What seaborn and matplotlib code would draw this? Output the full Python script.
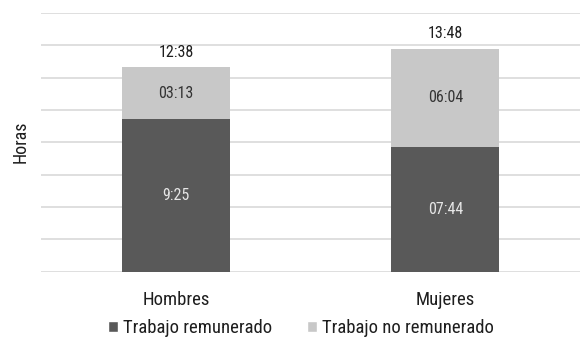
import numpy as np
import pandas as pd
import matplotlib
matplotlib.use("Agg")
import matplotlib.pyplot as plt
import seaborn as sns
from matplotlib.patches import Patch

# Datos (horas:minutos)
categorias = ["Hombres", "Mujeres"]
remunerado_txt = ["9:25", "07:44"]
no_remunerado_txt = ["03:13", "06:04"]
total_txt = ["12:38", "13:48"]
y_ticks = [0, 2, 4, 6, 8, 10, 12, 14, 16]

def a_horas(s):
    h, m = s.split(":")
    return int(h) + int(m) / 60

remunerado = [a_horas(s) for s in remunerado_txt]
no_remunerado = [a_horas(s) for s in no_remunerado_txt]
total = [r + n for r, n in zip(remunerado, no_remunerado)]

df = pd.DataFrame({"grupo": categorias, "remunerado": remunerado, "total": total})

sns.set_style("white")
plt.rcParams['font.family'] = ['Roboto Condensed', 'Liberation Sans Narrow',
                               'Liberation Sans', 'DejaVu Sans']

OSCURO = "#595959"
CLARO = "#c8c8c8"
TEXTO = "#1e1e1e"

fig = plt.figure(figsize=(5.8, 3.42), dpi=100)
ax = fig.add_axes([0.071, 0.206, 0.929, 0.756])

sns.barplot(data=df, x="grupo", y="total", color=CLARO, width=0.4,
            saturation=1, linewidth=0, ax=ax, zorder=3)
sns.barplot(data=df, x="grupo", y="remunerado", color=OSCURO, width=0.4,
            saturation=1, linewidth=0, ax=ax, zorder=3)

ax.set_ylim(0, 16)
ax.set_xlim(-0.5, 1.5)
ax.set_yticks(y_ticks)
ax.set_yticklabels([])
ax.yaxis.grid(True, color="#d9d9d9", linewidth=1.2, zorder=0)
ax.tick_params(axis="both", length=0)
ax.tick_params(axis="x", labelsize=13.5, pad=14, colors=TEXTO)
for s in ax.spines.values():
    s.set_visible(False)
ax.set_xlabel("")
ax.set_ylabel("Horas", fontsize=13, color=TEXTO, labelpad=5)

for i in range(len(categorias)):
    ax.text(i, remunerado[i] / 2, remunerado_txt[i], ha="center", va="center",
            fontsize=11.5, color="#e6e6e6", zorder=4)
    ax.text(i, remunerado[i] + no_remunerado[i] / 2, no_remunerado_txt[i],
            ha="center", va="center", fontsize=11.5, color="#333333", zorder=4)
    ax.annotate(total_txt[i], (i, total[i]), xytext=(0, 11),
                textcoords="offset points", ha="center", va="center",
                fontsize=11.5, color=TEXTO)

handles = [Patch(facecolor=OSCURO, label="Trabajo remunerado"),
           Patch(facecolor=CLARO, label="Trabajo no remunerado")]
fig.legend(handles=handles, loc="center", bbox_to_anchor=(0.519, 0.04),
           ncol=2, frameon=False, fontsize=13.5, handlelength=0.53,
           handleheight=0.53, handletextpad=0.27, columnspacing=1.9,
           labelcolor=TEXTO)

fig.savefig("out.png", dpi=100)
